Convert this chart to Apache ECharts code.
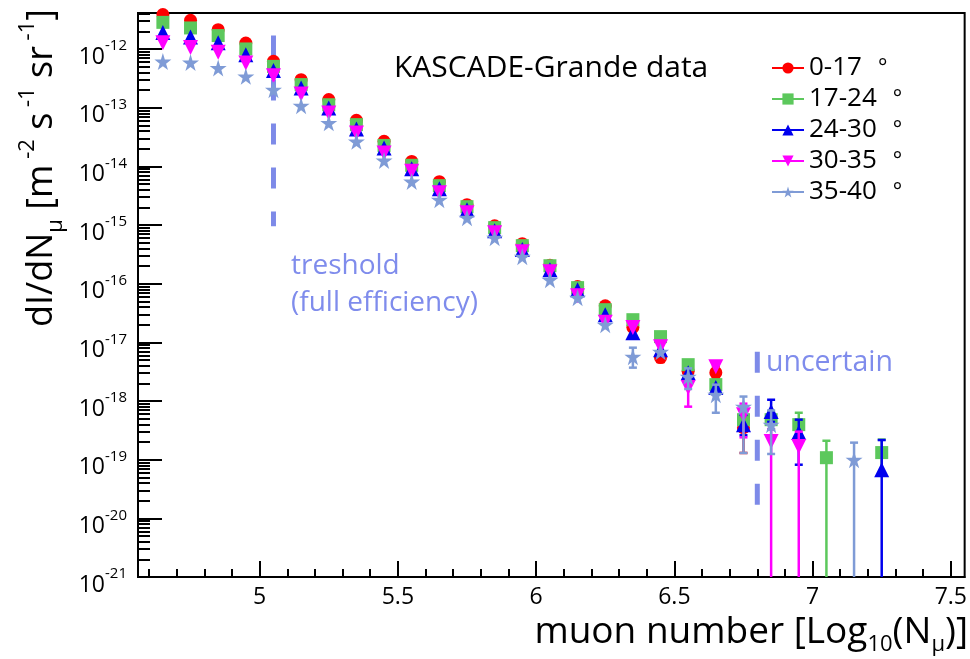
<!DOCTYPE html>
<html><head><meta charset="utf-8">
<script src="https://cdn.jsdelivr.net/npm/echarts@6/dist/echarts.min.js"></script>
<style>html,body{margin:0;padding:0;background:#fff}#c{width:970px;height:659px}</style>
</head><body><div id="c"></div>
<script>
// ---------- data ----------
const xBins = [4.65,4.75,4.85,4.95,5.05,5.15,5.25,5.35,5.45,5.55,5.65,5.75,5.85,5.95,6.05,6.15,6.25,6.35,6.45,6.55,6.65,6.75,6.85,6.95,7.05,7.15,7.25];
const seriesNames = ['0-17','17-24','24-30','30-35','35-40'];
const red     = [3.85e-12,3.08e-12,2.13e-12,1.26e-12,6.15e-13,3.0e-13,1.37e-13,6.07e-14,2.66e-14,1.21e-14,5.47e-15,2.22e-15,9.7e-16,4.8e-16,2.05e-16,8.9e-17,4.2e-17,1.8e-17,5.5e-18,3.2e-18,3.04e-18,3.5e-19,null,null,null,null,null];
const green   = [2.84e-12,2.28e-12,1.69e-12,1.0e-12,5.05e-13,2.47e-13,1.12e-13,5.13e-14,2.27e-14,1.04e-14,4.68e-15,2.05e-15,9.0e-16,4.44e-16,2.02e-16,8.55e-17,3.6e-17,2.43e-17,1.25e-17,4.16e-18,1.9e-18,4.8e-19,4.8e-19,3.95e-19,1.08e-19,null,1.32e-19];
const blue    = [1.9e-12,1.6e-12,1.27e-12,8.0e-13,4.31e-13,2.17e-13,9.87e-14,4.33e-14,2.05e-14,9.1e-15,4.16e-15,1.82e-15,8.0e-16,3.8e-16,1.73e-16,7.9e-17,2.96e-17,1.46e-17,7.5e-18,3.04e-18,1.69e-18,3.95e-19,6.6e-19,2.89e-19,null,null,6.7e-20];
const magenta = [1.28e-12,1.06e-12,8.75e-13,5.77e-13,3.5e-13,1.71e-13,8.1e-14,3.7e-14,1.69e-14,8.2e-15,3.55e-15,1.62e-15,7.4e-16,3.5e-16,1.6e-16,6.24e-17,2.2e-17,1.78e-17,8.4e-18,1.69e-18,3.85e-18,5.85e-19,2.03e-19,1.67e-19,null,null,null];
const star    = [6.1e-13,5.9e-13,4.74e-13,3.41e-13,2.02e-13,1.08e-13,5.5e-14,2.66e-14,1.26e-14,5.5e-15,2.7e-15,1.33e-15,6.08e-16,2.88e-16,1.17e-16,5.77e-17,2.0e-17,5.7e-18,6.9e-18,2.6e-18,1.28e-18,8.0e-19,3.95e-19,null,null,1.0e-19,null];
// error bars: [x, low, high]
const redErr     = [[6.45,4.6e-18,6.6e-18],[6.65,2.5e-18,3.9e-18],[6.75,1.3e-19,5.8e-19]];
const greenErr   = [[6.75,3.5e-19,6.5e-19],[6.85,3.3e-19,6.6e-19],[6.95,2.6e-19,6.3e-19],[7.05,1e-21,2.1e-19],[7.25,6e-20,2.2e-19]];
const blueErr    = [[6.75,2.6e-19,5.8e-19],[6.85,4.4e-19,1.05e-18],[6.95,8.2e-20,4.8e-19],[7.25,1e-21,2.16e-19]];
const magentaErr = [[6.55,8.0e-19,2.6e-18],[6.75,2.4e-19,9e-19],[6.85,1e-21,3.3e-19],[6.95,1e-21,3.0e-19]];
const starErr    = [[6.35,3.7e-18,8.1e-18],[6.55,1.6e-18,3.6e-18],[6.65,6.3e-19,1.9e-18],[6.75,1.3e-19,1.19e-18],[6.85,1.25e-19,6.9e-19],[7.15,1e-21,1.95e-19]];
// guide lines
const thresholdLine = [[5.05,1.7e-12],[5.05,9.5e-16]];
const uncertainLine = [[6.8,6.9e-18],[6.8,1.7e-20]];
// axes
const xMin = 4.56, xMax = 7.55;
const yMin = 0.99999e-21, yMax = 4.1e-12;
const xMajor = [5,5.5,6,6.5,7,7.5];
const xMinor = [4.6,4.7,4.8,4.9,5.1,5.2,5.3,5.4,5.6,5.7,5.8,5.9,6.1,6.2,6.3,6.4,6.6,6.7,6.8,6.9,7.1,7.2,7.3,7.4];
const yExponents = [-21,-20,-19,-18,-17,-16,-15,-14,-13,-12];

// ---------- build ----------
const FONT = 'Open Sans';
const yMajor = yExponents.map(e => Number('1e' + e));
const yMinor = [];
yExponents.forEach(e => { for (let k = 2; k <= 9; k++) { const v = Number(k + 'e' + e); if (v <= yMax) yMinor.push(v); } });

const STAR = 'path://M50,0 L61,35 L98,35 L68,57 L79,91 L50,70 L21,91 L32,57 L2,35 L39,35 Z';
const styles = [
  {color:'#ff0000', symbol:'circle', size:13, rot:0},
  {color:'#5cc85c', symbol:'rect', size:13, rot:0},
  {color:'#0000ee', symbol:'triangle', size:15, rot:0},
  {color:'#ff00ff', symbol:'triangle', size:15, rot:180},
  {color:'#7f9bd6', symbol:STAR, size:17, rot:0}
];
const values = [red, green, blue, magenta, star];
const errs = [redErr, greenErr, blueErr, magentaErr, starErr];

function errSeries(data, color, z) {
  return {
    type:'custom', data, z, silent:true, clip:true, encode:{x:0, y:[1,2]},
    renderItem(params, api) {
      const x = api.value(0), lo = api.value(1), hi = api.value(2);
      const t = api.coord([x, hi]), b = api.coord([x, lo]);
      const st = {stroke:color, lineWidth:2.5};
      const ch = [
        {type:'line', shape:{x1:t[0],y1:t[1],x2:b[0],y2:b[1]}, style:st},
        {type:'line', shape:{x1:t[0]-4,y1:t[1],x2:t[0]+4,y2:t[1]}, style:st}
      ];
      if (lo > 2e-21) ch.push({type:'line', shape:{x1:b[0]-4,y1:b[1],x2:b[0]+4,y2:b[1]}, style:st});
      return {type:'group', children:ch};
    }
  };
}

const series = [];
values.forEach((vals, i) => {
  const s = styles[i];
  series.push(errSeries(errs[i], s.color, 3 + 2*i));
  series.push({
    type:'line', name:seriesNames[i], z:4 + 2*i,
    data: xBins.map((x, j) => [x, vals[j]]).filter(p => p[1] != null),
    symbol:s.symbol, symbolSize:s.size, symbolRotate:s.rot, showAllSymbol:true,
    itemStyle:{color:s.color, opacity:1},
    lineStyle:{color:s.color, opacity:0, width:2},
    emphasis:{disabled:true}, silent:true
  });
});
const dashStyle = {color:'#7d8ae8', width:5, type:[21,23], cap:'butt'};
series.push({type:'line', data:thresholdLine, symbol:'none', lineStyle:dashStyle, z:2, silent:true});
series.push({type:'line', data:uncertainLine, symbol:'none', lineStyle:dashStyle, z:2, silent:true});

const supRich = {
  b:{fontSize:23, fontFamily:FONT, color:'#000', lineHeight:30, verticalAlign:'bottom'},
  s:{fontSize:15, fontFamily:FONT, color:'#000', lineHeight:15, verticalAlign:'top'}
};

const option = {
  animation:false,
  backgroundColor:'#fff',
  grid:{left:138, top:13, right:3, bottom:82, show:true, borderColor:'#000', borderWidth:2, containLabel:false},
  legend:{
    data:seriesNames, orient:'vertical', left:766, top:50, itemWidth:32, itemHeight:14, itemGap:5,
    lineStyle:{opacity:1, width:2},
    textStyle:{fontSize:26, fontFamily:FONT, color:'#000', rich:{d:{fontSize:22, fontFamily:FONT, color:'#000', padding:[0,0,0,16]}}},
    formatter: n => n + '{d|°}',
    selectedMode:false
  },
  xAxis:[
    {type:'value', min:xMin, max:xMax, position:'bottom',
     axisLine:{show:true, onZero:false, lineStyle:{color:'#000', width:2}},
     axisTick:{show:true, inside:true, length:16, customValues:xMajor, lineStyle:{color:'#000', width:2}},
     axisLabel:{show:true, customValues:xMajor, margin:9, fontSize:23, fontFamily:FONT, color:'#000', formatter:v => String(v)},
     splitLine:{show:false}},
    {type:'value', min:xMin, max:xMax, position:'bottom',
     axisLine:{show:false},
     axisTick:{show:true, inside:true, length:8, customValues:xMinor, lineStyle:{color:'#000', width:2}},
     axisLabel:{show:false}, splitLine:{show:false}}
  ],
  yAxis:[
    {type:'log', logBase:10, min:yMin, max:yMax, position:'left',
     axisLine:{show:true, onZero:false, lineStyle:{color:'#000', width:2}},
     axisTick:{show:true, inside:true, length:24, customValues:yMajor, lineStyle:{color:'#000', width:2}},
     axisLabel:{show:true, customValues:yMajor, margin:11, padding:[9,0,0,0], formatter:v => '{b|10}{s|' + Math.round(Math.log10(v)) + '}', rich:supRich},
     splitLine:{show:false}, minorTick:{show:false}},
    {type:'log', logBase:10, min:yMin, max:yMax, position:'left',
     axisLine:{show:false},
     axisTick:{show:true, inside:true, length:12, customValues:yMinor, lineStyle:{color:'#000', width:2}},
     axisLabel:{show:false}, splitLine:{show:false}}
  ],
  series,
  graphic:[
    {type:'text', x:394, y:68, z:100, style:{text:'KASCADE-Grande data', fontSize:30, fontFamily:FONT, fill:'#000', align:'left', verticalAlign:'middle'}},
    {type:'text', x:291, y:266, z:100, style:{text:'treshold', fontSize:28, fontFamily:FONT, fill:'#7f8cec', align:'left', verticalAlign:'middle'}},
    {type:'text', x:291, y:303, z:100, style:{text:'(full efficiency)', fontSize:28, fontFamily:FONT, fill:'#7f8cec', align:'left', verticalAlign:'middle'}},
    {type:'text', x:766, y:363, z:100, style:{text:'uncertain', fontSize:28.5, fontFamily:FONT, fill:'#7f8cec', align:'left', verticalAlign:'middle'}},
    {type:'text', x:42, y:168, rotation:Math.PI/2, z:100, style:{
      text:'{n|dI/dN}{sb|μ}{n| [m}{sp| -2}{n| s}{sp| -1}{n| sr}{sp| -1}{n|]}',
      align:'center', verticalAlign:'middle',
      rich:{
        n:{fontSize:36, fontFamily:FONT, fill:'#000', lineHeight:50, verticalAlign:'middle'},
        sp:{fontSize:22, fontFamily:FONT, fill:'#000', lineHeight:22, verticalAlign:'top'},
        sb:{fontSize:22, fontFamily:FONT, fill:'#000', lineHeight:22, verticalAlign:'bottom'}
      }}},
    {type:'text', x:968, y:632, z:100, style:{
      text:'{n|muon number [Log}{sb|10}{n|(N}{sb|μ}{n|)]}',
      align:'right', verticalAlign:'middle',
      rich:{
        n:{fontSize:37, fontFamily:FONT, fill:'#000', lineHeight:48, verticalAlign:'middle'},
        sb:{fontSize:22, fontFamily:FONT, fill:'#000', lineHeight:22, verticalAlign:'bottom'}
      }}}
  ]
};
const chart = echarts.init(document.getElementById('c'));
chart.setOption(option);
</script>
</body></html>
